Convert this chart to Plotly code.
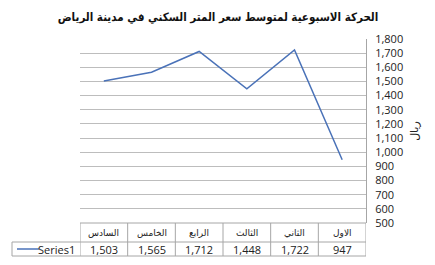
import plotly.graph_objects as go

# ---- data ----
categories = ["الاول", "الثاني", "الثالث", "الرابع", "الخامس", "السادس"]
values = [947, 1722, 1448, 1712, 1565, 1503]
series_name = "Series1"
title_text = "الحركة الاسبوعية لمتوسط سعر المتر السكني في مدينة الرياض"
y_title = "ريال"
y_ticks = list(range(500, 1801, 100))

# ---- styling / geometry ----
W, H = 435, 265
PL, PR, PT, PB = 80, 366, 39, 223  # plot area in px
LINE_COLOR = "#4a72b8"
GRID = "#bdbdbd"
BORDER = "#a6a6a6"
TEXT = "#222222"

def px_x(p):
    return (p - PL) / (PR - PL)

def px_y(p):
    return (PB - p) / (PB - PT)

ROW1_BOTTOM = 242
ROW2_BOTTOM = 256
TABLE_LEFT = 12

fig = go.Figure()
fig.add_trace(go.Scatter(
    x=categories, y=values, mode="lines", name=series_name,
    line=dict(color=LINE_COLOR, width=1.5), showlegend=False,
))

shapes = []
line_style = dict(color=BORDER, width=1)
shapes.append(dict(type="line", xref="paper", yref="paper", x0=0, x1=1,
                   y0=px_y(PB), y1=px_y(PB), line=line_style))
shapes.append(dict(type="line", xref="paper", yref="paper", x0=px_x(TABLE_LEFT), x1=1,
                   y0=px_y(ROW1_BOTTOM), y1=px_y(ROW1_BOTTOM), line=line_style))
shapes.append(dict(type="line", xref="paper", yref="paper", x0=px_x(TABLE_LEFT), x1=1,
                   y0=px_y(ROW2_BOTTOM), y1=px_y(ROW2_BOTTOM), line=line_style))
n = len(categories)
for i in range(n + 1):
    shapes.append(dict(type="line", xref="x", yref="paper", x0=i - 0.5, x1=i - 0.5,
                       y0=px_y(PB), y1=px_y(ROW2_BOTTOM), line=line_style))
shapes.append(dict(type="line", xref="paper", yref="paper", x0=px_x(TABLE_LEFT), x1=px_x(TABLE_LEFT),
                   y0=px_y(ROW1_BOTTOM), y1=px_y(ROW2_BOTTOM), line=line_style))
shapes.append(dict(type="line", xref="paper", yref="paper", x0=px_x(17), x1=px_x(39),
                   y0=px_y(249), y1=px_y(249), line=dict(color=LINE_COLOR, width=1.5)))

annotations = []
for c, v in zip(categories, values):
    annotations.append(dict(x=c, xref="x", y=px_y(233), yref="paper", text=c, showarrow=False,
                            font=dict(family="DejaVu Sans", size=9, color=TEXT),
                            xanchor="center", yanchor="middle"))
    annotations.append(dict(x=c, xref="x", y=px_y(249), yref="paper", text=f"{v:,}", showarrow=False,
                            font=dict(family="Open Sans", size=11, color=TEXT),
                            xanchor="center", yanchor="middle"))
annotations.append(dict(x=px_x(77), xref="paper", y=px_y(249), yref="paper", text=series_name,
                        showarrow=False, font=dict(family="Open Sans", size=11, color=TEXT),
                        xanchor="right", yanchor="middle"))

fig.update_layout(
    width=W, height=H,
    margin=dict(l=PL, r=W - PR, t=PT, b=H - PB),
    paper_bgcolor="white", plot_bgcolor="white",
    title=dict(text=title_text, x=218 / W, xref="container", xanchor="center",
               y=1 - 17 / H, yref="container", yanchor="middle",
               font=dict(family="DejaVu Sans Condensed, DejaVu Sans", size=11.5,
                         color="#111111", weight="bold")),
    xaxis=dict(type="category", categoryorder="array", categoryarray=categories,
               range=[n - 0.5, -0.5], showticklabels=False, showgrid=False,
               zeroline=False, showline=False, ticks=""),
    yaxis=dict(side="right", range=[500, 1800], tickvals=y_ticks,
               ticktext=[f"{t:,}" for t in y_ticks], showgrid=True, gridcolor=GRID,
               gridwidth=1, zeroline=False, showline=True, linecolor=BORDER,
               ticks="", ticklabelstandoff=6,
               tickfont=dict(family="Open Sans", size=11, color=TEXT),
               title=dict(text=y_title, standoff=8,
                          font=dict(family="DejaVu Sans", size=11, color=TEXT))),
    shapes=shapes, annotations=annotations,
)

fig.write_html("out.html")
